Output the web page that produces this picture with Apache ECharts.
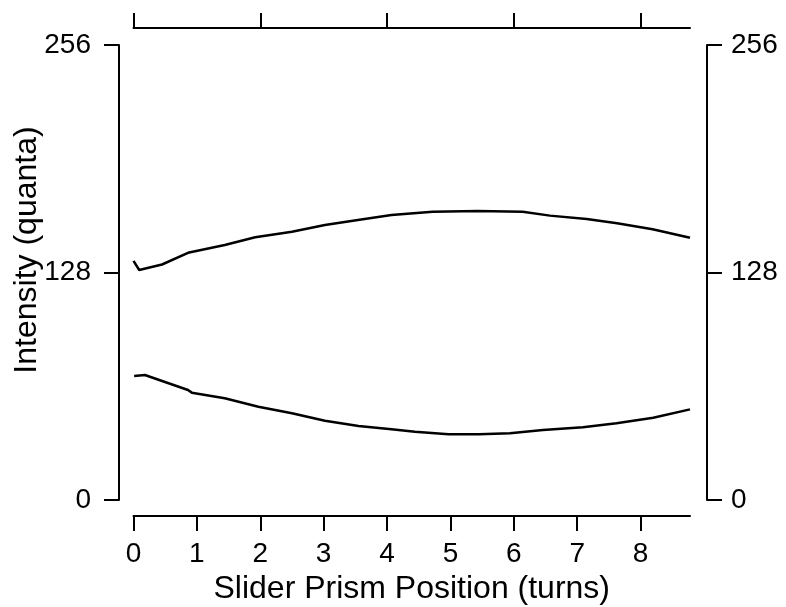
<!DOCTYPE html>
<html>
<head>
<meta charset="utf-8">
<script src="https://cdn.jsdelivr.net/npm/echarts@6/dist/echarts.min.js"></script>
<style>
  html, body { margin: 0; padding: 0; background: #fff; }
  #chart { width: 786px; height: 607px; }
</style>
</head>
<body>
<div id="chart"></div>
<script>
// slider position (turns) and intensity (quanta)
const upperTurns = [0.0, 0.09, 0.45, 0.86, 1.44, 1.92, 2.50, 3.02, 3.54, 4.07, 4.72, 5.43, 6.14, 6.57, 7.15, 7.63, 8.19, 8.78];
const upperValues = [134.5, 129.4, 132.5, 139.1, 143.5, 147.8, 150.9, 154.7, 157.5, 160.3, 162.2, 162.6, 162.2, 160.0, 158.1, 155.7, 152.3, 147.6];

const lowerTurns = [0.01, 0.18, 0.44, 0.86, 0.92, 1.44, 1.97, 2.50, 3.02, 3.55, 4.07, 4.44, 4.97, 5.45, 5.94, 6.46, 7.09, 7.62, 8.20, 8.78];
const lowerValues = [69.8, 70.3, 67.1, 61.9, 60.4, 57.2, 52.5, 48.8, 44.6, 41.6, 39.8, 38.4, 37.0, 37.0, 37.5, 39.4, 40.9, 43.2, 46.3, 51.0];

const bottomTicks = [0, 1, 2, 3, 4, 5, 6, 7, 8];
const topTicks = [0, 2, 4, 6, 8];
const xMax = 8.78;

const font = '"Liberation Sans", Arial, Helvetica, sans-serif';
const black = '#000';

const pairs = (xs, ys) => xs.map((x, i) => [x, ys[i]]);

const chart = echarts.init(document.getElementById('chart'));

const axisLine = { show: true, onZero: false, lineStyle: { color: black, width: 2 } };
const tick = (values) => ({ show: true, length: 15, customValues: values, lineStyle: { color: black, width: 2 } });

const yAxisBase = {
  type: 'value',
  min: 0,
  max: 256,
  interval: 128,
  splitLine: { show: false },
  axisLine: axisLine,
  axisTick: { show: true, length: 15, lineStyle: { color: black, width: 2 } }
};

chart.setOption({
  animation: false,
  backgroundColor: '#fff',
  grid: { left: 133.5, right: 96, top: 45, bottom: 107, containLabel: false, outerBoundsMode: 'none' },
  xAxis: [
    {
      type: 'value',
      position: 'bottom',
      offset: 16,
      min: 0,
      max: xMax,
      interval: 1,
      name: 'Slider Prism Position (turns)',
      nameLocation: 'middle',
      nameGap: 49,
      nameTextStyle: { color: black, fontSize: 32, fontFamily: font },
      splitLine: { show: false },
      axisLine: axisLine,
      axisTick: tick(bottomTicks),
      axisLabel: { customValues: bottomTicks, color: black, fontSize: 28, fontFamily: font, margin: 24 }
    },
    {
      type: 'value',
      position: 'top',
      offset: 17,
      min: 0,
      max: xMax,
      interval: 2,
      splitLine: { show: false },
      axisLine: axisLine,
      axisTick: tick(topTicks),
      axisLabel: { show: false }
    }
  ],
  yAxis: [
    Object.assign({}, yAxisBase, {
      position: 'left', offset: 14.5,
      axisLabel: { color: black, fontSize: 28, fontFamily: font, margin: 28 }
    }),
    Object.assign({}, yAxisBase, {
      position: 'right', offset: 17,
      axisLabel: { color: black, fontSize: 28, fontFamily: font, margin: 24 }
    })
  ],
  graphic: [{
    type: 'text',
    x: 27,
    y: 250,
    rotation: Math.PI / 2,
    style: {
      text: 'Intensity (quanta)',
      fill: black,
      font: '32px ' + font,
      textAlign: 'center',
      textVerticalAlign: 'middle'
    }
  }],
  series: [
    {
      type: 'line',
      data: pairs(upperTurns, upperValues),
      showSymbol: false,
      lineStyle: { color: black, width: 2.5 }
    },
    {
      type: 'line',
      data: pairs(lowerTurns, lowerValues),
      showSymbol: false,
      lineStyle: { color: black, width: 2.5 }
    }
  ]
});
</script>
</body>
</html>
